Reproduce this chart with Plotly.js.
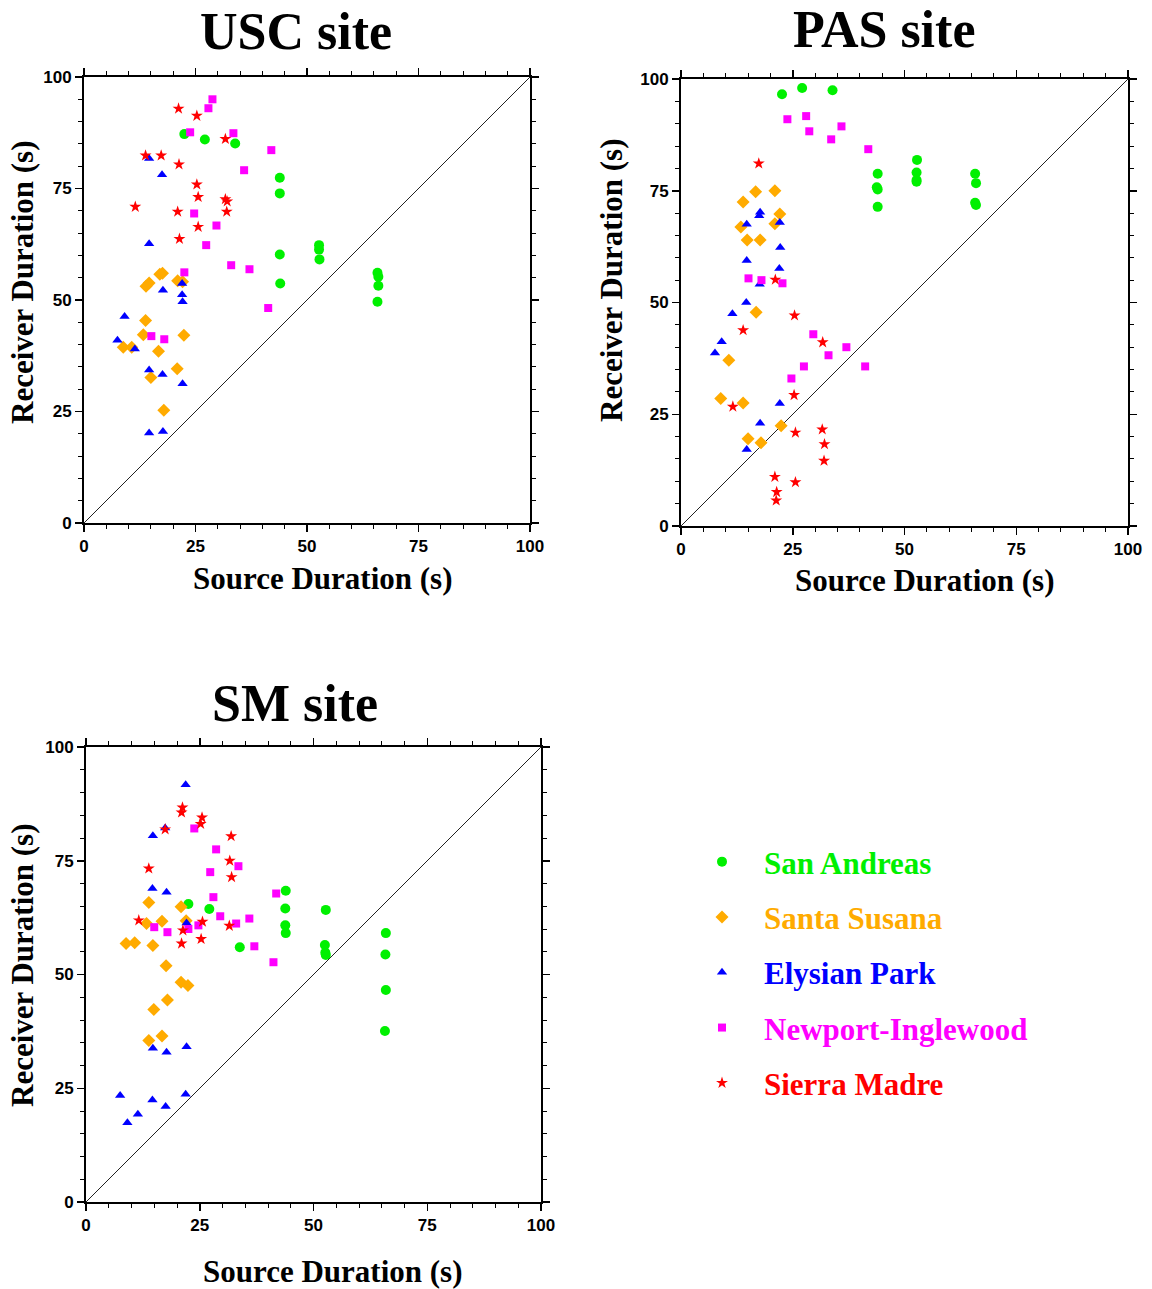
<!DOCTYPE html>
<html>
<head>
<meta charset="utf-8">
<script src="https://cdn.plot.ly/plotly-3.0.1.min.js"></script>
<style>
  html, body { margin: 0; padding: 0; background: #fff; }
  #chart { width: 1152px; height: 1289px; }
</style>
</head>
<body>
<div id="chart"></div>
<script>
// Fault names, colours and marker symbols
const FAULTS = ['San Andreas', 'Santa Susana', 'Elysian Park', 'Newport-Inglewood', 'Sierra Madre'];
const COLORS = ['#00f000', '#ffab00', '#0000ff', '#ff00ff', '#ff0000'];
const SYMBOLS = ['circle', 'diamond', 'triangle-up', 'square', 'star'];
const SIZES = [10, 10, 9, 8, 9];

// Site titles
const SITES = ['USC site', 'PAS site', 'SM site'];

// Axis tick labels
const TICKS = [0, 25, 50, 75, 100];

// 1:1 reference line (source duration = receiver duration)
const DIAG_X = [0, 100];
const DIAG_Y = [0, 100];

// ---- USC site: [source duration, receiver duration] (s) ----
const USC_SAN_ANDREAS = [[22.5,87.2],[27.1,86.0],[33.9,85.1],[43.9,77.4],[43.9,73.9],[43.9,60.2],[44.0,53.7],
  [52.7,62.3],[52.7,61.3],[52.8,59.1],[65.8,56.1],[66.0,55.2],[66.0,53.2],[65.8,49.6]];
const USC_SANTA_SUSANA = [[17.0,55.8],[17.6,56.0],[13.9,53.1],[14.6,53.8],[21.0,54.3],[22.1,54.1],[13.8,45.4],
  [13.3,42.2],[22.4,42.1],[8.8,39.4],[10.7,39.4],[16.7,38.5],[20.9,34.6],[15.0,32.6],[17.9,25.3]];
const USC_ELYSIAN_PARK = [[14.6,81.7],[17.5,78.1],[14.6,62.6],[22.0,53.7],[17.7,52.2],[22.0,51.2],[22.1,49.6],
  [9.1,46.3],[7.5,41.0],[11.4,39.0],[14.6,34.3],[17.6,33.3],[22.1,31.2],[14.6,20.2],[17.7,20.5]];
const USC_NEWPORT_INGLEWOOD = [[28.8,95.0],[27.9,93.0],[23.8,87.6],[33.5,87.4],[42.0,83.6],[35.9,79.1],[24.7,69.4],
  [29.7,66.7],[27.4,62.3],[22.5,56.2],[33.0,57.8],[37.1,56.9],[41.3,48.2],[15.1,41.9],[18.0,41.2]];
const USC_SIERRA_MADRE = [[21.2,92.9],[25.3,91.3],[31.7,86.1],[13.8,82.4],[17.3,82.4],[21.3,80.4],[25.3,75.9],
  [25.6,73.1],[31.7,72.6],[32.1,72.1],[11.5,70.9],[21.0,69.8],[32.0,69.8],[25.6,66.4],[21.4,63.7]];

// ---- PAS site ----
const PAS_SAN_ANDREAS = [[22.6,96.6],[27.1,98.0],[33.9,97.5],[44.0,78.8],[43.8,75.8],[44.0,75.3],[44.0,71.4],
  [52.8,81.9],[52.7,79.1],[52.7,77.4],[52.7,77.0],[65.8,78.8],[66.0,76.7],[65.8,72.3],[66.0,71.8]];
const PAS_SANTA_SUSANA = [[16.7,74.8],[21.0,75.0],[13.9,72.5],[22.1,69.8],[13.4,66.9],[21.0,67.6],[14.8,64.0],
  [17.7,64.0],[16.8,47.8],[10.7,37.1],[8.9,28.5],[13.9,27.5],[22.4,22.4],[15.0,19.5],[17.9,18.6]];
const PAS_ELYSIAN_PARK = [[17.7,70.2],[17.5,69.4],[14.7,67.5],[22.1,67.9],[22.2,62.3],[14.7,59.4],[22.0,57.6],
  [17.6,54.1],[14.6,50.0],[11.5,47.5],[9.1,41.2],[7.6,38.7],[22.1,27.4],[17.7,23.0],[14.7,17.1]];
const PAS_NEWPORT_INGLEWOOD = [[23.8,91.0],[28.0,91.7],[28.7,88.3],[35.9,89.4],[33.6,86.5],[41.9,84.3],[15.1,55.4],
  [18.0,55.0],[22.7,54.3],[29.6,42.9],[37.0,40.0],[33.0,38.2],[27.5,35.7],[41.2,35.7],[24.7,33.0]];
const PAS_SIERRA_MADRE = [[17.4,81.1],[21.1,55.1],[25.4,47.1],[13.9,43.8],[31.7,41.1],[25.3,29.3],[11.6,26.7],
  [25.6,20.9],[31.6,21.6],[32.1,18.3],[32.0,14.6],[21.0,11.0],[25.6,9.8],[21.4,7.6],[21.3,5.7]];

// ---- SM site ----
const SM_SAN_ANDREAS = [[22.5,65.5],[27.1,64.4],[33.8,56.0],[43.9,68.4],[43.8,64.5],[43.8,60.8],[43.9,59.1],
  [52.7,64.2],[52.5,56.5],[52.6,54.8],[52.7,54.3],[65.9,59.1],[65.8,54.4],[65.9,46.6],[65.7,37.6]];
const SM_SANTA_SUSANA = [[13.8,65.8],[20.9,64.9],[22.0,61.8],[16.7,61.7],[13.3,61.2],[8.8,56.8],[10.7,57.0],
  [14.7,56.4],[17.6,51.9],[20.9,48.3],[22.4,47.6],[17.9,44.4],[14.9,42.3],[16.7,36.5],[13.8,35.5]];
const SM_ELYSIAN_PARK = [[21.9,91.7],[17.4,82.2],[14.7,80.5],[14.6,68.9],[17.7,68.1],[22.1,61.3],[14.7,33.8],
  [17.7,32.9],[22.1,34.1],[7.5,23.4],[14.6,22.4],[17.5,21.0],[21.9,23.7],[11.4,19.3],[9.1,17.4]];
const SM_NEWPORT_INGLEWOOD = [[23.8,82.1],[28.6,77.5],[33.5,73.8],[27.3,72.5],[41.8,67.8],[28.0,67.0],[29.5,62.8],
  [35.9,62.3],[33.0,61.2],[24.7,60.8],[22.5,60.0],[15.0,60.4],[17.9,59.3],[37.0,56.2],[41.2,52.7]];
const SM_SIERRA_MADRE = [[21.2,86.7],[21.0,85.6],[25.5,84.5],[25.2,83.1],[17.4,81.9],[31.9,80.4],[13.8,73.3],
  [31.6,75.0],[32.0,71.4],[11.6,61.9],[25.6,61.6],[31.5,60.7],[21.3,59.7],[25.3,57.8],[21.0,56.8]];

const SITE_DATA = [
  [USC_SAN_ANDREAS, USC_SANTA_SUSANA, USC_ELYSIAN_PARK, USC_NEWPORT_INGLEWOOD, USC_SIERRA_MADRE],
  [PAS_SAN_ANDREAS, PAS_SANTA_SUSANA, PAS_ELYSIAN_PARK, PAS_NEWPORT_INGLEWOOD, PAS_SIERRA_MADRE],
  [SM_SAN_ANDREAS, SM_SANTA_SUSANA, SM_ELYSIAN_PARK, SM_NEWPORT_INGLEWOOD, SM_SIERRA_MADRE]
];

// ---- page geometry (pixels) ----
const W = 1152, H = 1289;
const px = x => x / W;
const py = y => 1 - y / H;

// Plot frames: [left, right, top, bottom] in pixels
const FRAMES = [
  [84, 530, 77, 523],
  [681, 1128, 79, 526],
  [86, 541, 747, 1202]
];

const SERIF = 'Liberation Serif, Times New Roman, serif';
const SANS = 'Liberation Sans, Arial, Helvetica, sans-serif';

const traces = [];
SITE_DATA.forEach((site, s) => {
  const sfx = s === 0 ? '' : String(s + 1);
  traces.push({
    type: 'scatter', mode: 'lines', x: DIAG_X, y: DIAG_Y,
    xaxis: 'x' + sfx, yaxis: 'y' + sfx,
    line: { color: '#222', width: 1 }, showlegend: false, hoverinfo: 'skip'
  });
  site.forEach((pts, f) => {
    traces.push({
      type: 'scatter', mode: 'markers',
      x: pts.map(p => p[0]), y: pts.map(p => p[1]),
      xaxis: 'x' + sfx, yaxis: 'y' + sfx,
      name: '<span style="color:' + COLORS[f] + '">' + FAULTS[f] + '</span>',
      legendgroup: FAULTS[f],
      showlegend: s === 0,
      marker: { symbol: SYMBOLS[f], color: COLORS[f], size: SIZES[f], line: { width: 0 } }
    });
  });
});

function axis(domain, anchor) {
  return {
    domain: domain, anchor: anchor, range: [0, 100],
    tickmode: 'array', tickvals: TICKS, ticktext: TICKS.map(String),
    ticks: 'outside', ticklen: 7, tickwidth: 1.5, tickcolor: '#000',
    minor: { tickmode: 'linear', tick0: 0, dtick: 5, ticks: 'outside', ticklen: 4, tickwidth: 1, tickcolor: '#000' },
    showline: true, linewidth: 2, linecolor: '#000', mirror: 'ticks',
    showgrid: false, zeroline: false, fixedrange: true,
    tickfont: { family: SANS, size: 17, color: '#000', weight: 'bold' }
  };
}

const layout = {
  width: W, height: H,
  margin: { l: 0, r: 0, t: 0, b: 0 },
  paper_bgcolor: '#fff', plot_bgcolor: '#fff',
  showlegend: true,
  legend: {
    x: px(680), y: py(835), xanchor: 'left', yanchor: 'top',
    traceorder: 'grouped', tracegroupgap: 12, itemwidth: 74,
    font: { family: SERIF, size: 31, weight: 'bold' },
    bgcolor: 'rgba(0,0,0,0)', borderwidth: 0, itemclick: false, itemdoubleclick: false
  },
  annotations: []
};

FRAMES.forEach((fr, s) => {
  const sfx = s === 0 ? '' : String(s + 1);
  layout['xaxis' + sfx] = axis([px(fr[0]), px(fr[1])], 'y' + sfx);
  layout['yaxis' + sfx] = axis([py(fr[3]), py(fr[2])], 'x' + sfx);
});

// Titles and axis labels
const TITLE_POS = [[296, 31], [884, 30], [295, 703]];
const XLABEL_POS = [[322, 578], [924, 580], [332, 1271]];
const YLABEL_POS = [[22, 282], [611, 280], [22, 965]];

TITLE_POS.forEach((p, s) => {
  layout.annotations.push({
    xref: 'paper', yref: 'paper', x: px(p[0]), y: py(p[1]), xanchor: 'center', yanchor: 'middle',
    text: SITES[s], showarrow: false,
    font: { family: SERIF, size: 52, color: '#000', weight: 'bold' }
  });
  layout.annotations.push({
    xref: 'paper', yref: 'paper', x: px(XLABEL_POS[s][0]), y: py(XLABEL_POS[s][1]), xanchor: 'center', yanchor: 'middle',
    text: 'Source Duration (s)', showarrow: false,
    font: { family: SERIF, size: 31, color: '#000', weight: 'bold' }
  });
  layout.annotations.push({
    xref: 'paper', yref: 'paper', x: px(YLABEL_POS[s][0]), y: py(YLABEL_POS[s][1]), xanchor: 'center', yanchor: 'middle',
    text: 'Receiver Duration (s)', showarrow: false, textangle: -90,
    font: { family: SERIF, size: 31, color: '#000', weight: 'bold' }
  });
});

Plotly.newPlot('chart', traces, layout, { staticPlot: true, displayModeBar: false });
</script>
</body>
</html>
